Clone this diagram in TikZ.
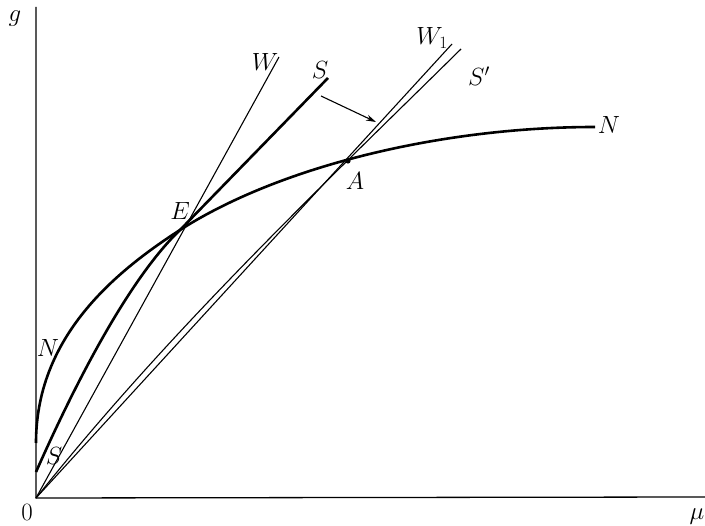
\documentclass[tikz,border=0pt]{standalone}
\usetikzlibrary{arrows.meta}
\begin{document}
\begin{tikzpicture}[x=1pt,y=-1pt,
  axis/.style={line width=1.3pt},
  thickc/.style={line width=2.6pt},
  thinl/.style={line width=1.1pt},
  lbl/.style={inner sep=0pt,font=\fontsize{24}{28}\selectfont}]
\useasboundingbox (0,0) rectangle (705,526);
\coordinate (O) at (36,498);
\coordinate (Ytop) at (36,7);
\coordinate (Xend) at (705,497);
\coordinate (E) at (180,230);
\coordinate (A) at (348,161);
\coordinate (Wend) at (279,57);
\coordinate (Send) at (328,78);
\coordinate (Sstart) at (36,472);
\coordinate (Nstart) at (36,443);
\coordinate (Nend) at (595,127);
\coordinate (W1end) at (452,44);
\coordinate (Spend) at (461,49);
\coordinate (ArrS) at (321,96);
\coordinate (ArrE) at (376,122);
% axes
\draw[axis] (Ytop) -- (O) -- (Xend);
% thin lines
\draw[thinl] (O) -- (Wend);
\draw[thinl] (O) -- (W1end);
\draw[thinl] (O) .. controls (170,330) and (320,188) .. (Spend);
% thick curves
\draw[thickc] (Sstart) .. controls (90,350) and (140,268) .. (E) -- (Send);
\draw[thickc] (Nstart) .. controls (36,340) and (110,275) .. (E)
   .. controls (280,166) and (442,127) .. (Nend);
\fill (A) circle (2.6pt);
% arrow
\draw[line width=1.1pt,-{Stealth[length=10pt,width=6pt]}] (ArrS) -- (ArrE);
% labels
\node[lbl] (lg) at (15,19) {$g$};
\node[lbl] (l0) at (27,512) {$0$};
\node[lbl] (lmu) at (697,517) {$\mu$};
\node[lbl] (lW) at (265,62) {$W$};
\node[lbl] (lS) at (320,70) {$S$};
\node[lbl] (lW1) at (432,38) {$W_{1}$};
\node[lbl] (lSp) at (479,76) {$S'$};
\node[lbl] (lA) at (355,181) {$A$};
\node[lbl] (lE) at (180,211) {$E$};
\node[lbl] (lN) at (609,125) {$N$};
\node[lbl] (lN2) at (48,348) {$N$};
\node[lbl] (lS2) at (54,456) {$S$};
\end{tikzpicture}
\end{document}
